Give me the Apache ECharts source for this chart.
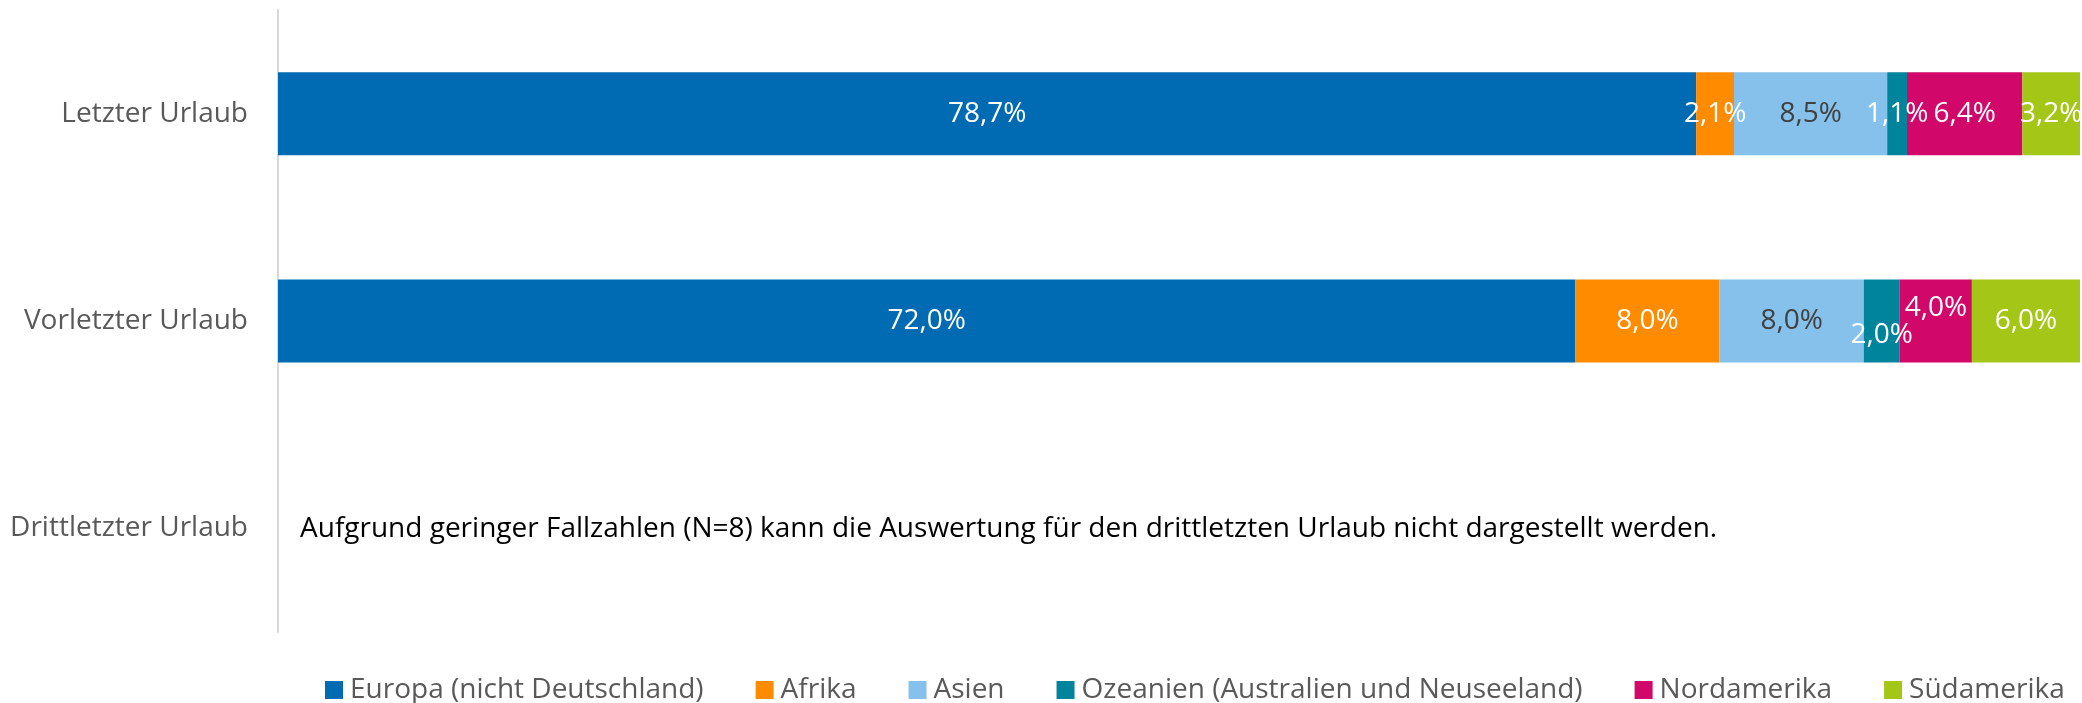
<!DOCTYPE html>
<html>
<head>
<meta charset="utf-8">
<script src="https://cdn.jsdelivr.net/npm/echarts@6/dist/echarts.min.js"></script>
<style>
html,body{margin:0;padding:0;background:#fff;}
#chart{width:2082px;height:703px;}
</style>
</head>
<body>
<div id="chart"></div>
<script>
const categories = ['Letzter Urlaub', 'Vorletzter Urlaub', 'Drittletzter Urlaub'];
const seriesNames = ['Europa (nicht Deutschland)', 'Afrika', 'Asien', 'Ozeanien (Australien und Neuseeland)', 'Nordamerika', 'Südamerika'];
const europa = [78.7, 72.0, null];
const afrika = [2.1, 8.0, null];
const asien = [8.5, 8.0, null];
const ozeanien = [1.1, 2.0, null];
const nordamerika = [6.4, 4.0, null];
const suedamerika = [3.2, 6.0, null];
const note = 'Aufgrund geringer Fallzahlen (N=8) kann die Auswertung für den drittletzten Urlaub nicht dargestellt werden.';

const colors = ['#006AB3', '#FF8B00', '#85C1EA', '#00849C', '#D1086A', '#A4C616'];
const labelColors = ['#fff', '#fff', '#404040', '#fff', '#fff', '#fff'];
const values = [europa, afrika, asien, ozeanien, nordamerika, suedamerika];
// Excel-like vertical label shifts to avoid overlap (series index -> per-category dy)
const labelShift = {
  3: [0, 14, 0],
  4: [0, -13, 0]
};

const FONT = 'Open Sans';
const chart = echarts.init(document.getElementById('chart'));
const series = seriesNames.map((name, i) => ({
  name: name,
  type: 'bar',
  stack: 'total',
  barWidth: '40%',
  itemStyle: { color: colors[i] },
  label: {
    show: true,
    position: 'inside',
    color: labelColors[i],
    fontFamily: FONT,
    fontSize: 28,
    formatter: p => p.value == null ? '' : p.value.toFixed(1).replace('.', ',') + '%'
  },
  labelLayout: function (params) {
    const s = labelShift[i];
    return { hideOverlap: false, dy: s ? s[params.dataIndex] : 0 };
  },
  data: values[i]
}));

chart.setOption({
  animation: false,
  textStyle: { fontFamily: FONT },
  grid: { left: 278, right: 2, top: 10, bottom: 71, containLabel: false },
  legend: {
    left: 320,
    top: 671,
    itemWidth: 18,
    itemHeight: 18,
    itemGap: 52,
    icon: 'rect',
    textStyle: { color: '#595959', fontSize: 28, fontFamily: FONT, padding: [0, 0, 0, 2] },
    data: seriesNames
  },
  xAxis: {
    type: 'value',
    min: 0,
    max: 100,
    show: false
  },
  yAxis: {
    type: 'category',
    inverse: true,
    data: categories,
    axisTick: { show: false },
    axisLine: { show: true, lineStyle: { color: '#D9D9D9', width: 2 } },
    axisLabel: { color: '#595959', fontSize: 28, fontFamily: FONT, margin: 30 }
  },
  graphic: [{
    type: 'text',
    left: 300,
    top: 515,
    style: { text: note, fill: '#000', fontSize: 28, fontFamily: FONT }
  }],
  series: series
});
</script>
</body>
</html>
